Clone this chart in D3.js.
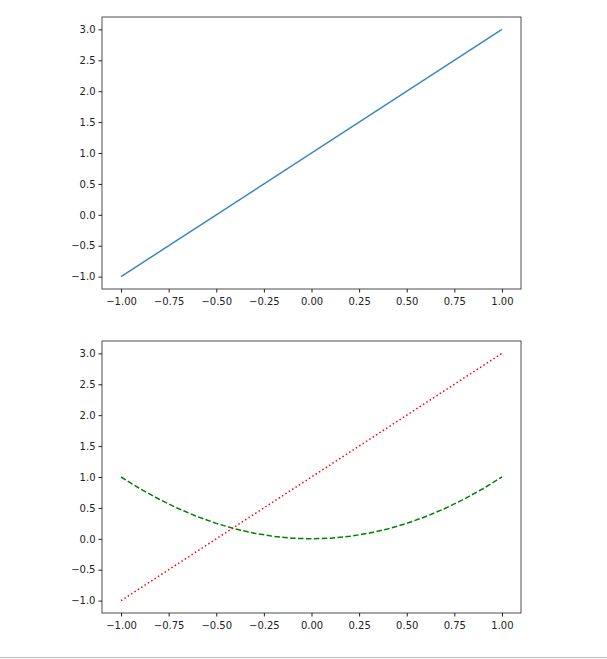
<!DOCTYPE html><html><head><meta charset="utf-8"><script src="https://cdn.jsdelivr.net/npm/d3@7"></script>
<style>body{margin:0;background:#fff}</style></head><body><svg id="c" width="607" height="659"></svg><script>
const xTicks=[-1.00,-0.75,-0.50,-0.25,0.00,0.25,0.50,0.75,1.00];
const yTicks=[-1.0,-0.5,0.0,0.5,1.0,1.5,2.0,2.5,3.0];
const lineX=[-1,1];
const lineY=[-1,3];
const curveX=[-1,-0.9,-0.8,-0.7,-0.6,-0.5,-0.4,-0.3,-0.2,-0.1,0,0.1,0.2,0.3,0.4,0.5,0.6,0.7,0.8,0.9,1];
const curveY=[1,0.81,0.64,0.49,0.36,0.25,0.16,0.09,0.04,0.01,0,0.01,0.04,0.09,0.16,0.25,0.36,0.49,0.64,0.81,1];
const svg=d3.select("#c");
svg.append("line").attr("x1",0).attr("x2",607).attr("y1",657.5).attr("y2",657.5).attr("stroke","#bbb");
function panel(top,bottom,series){
  const x=d3.scaleLinear().domain([-1.1,1.1]).range([102,521]);
  const y=d3.scaleLinear().domain([-1.2,3.2]).range([bottom,top]);
  const g=svg.append("g");
  const xa=g.append("g").attr("transform",`translate(0,${bottom})`).call(d3.axisBottom(x).tickValues(xTicks).tickFormat(d3.format(".2f")).tickSize(3.5).tickSizeOuter(0));
  const ya=g.append("g").attr("transform",`translate(102,0)`).call(d3.axisLeft(y).tickValues(yTicks).tickFormat(d3.format(".1f")).tickSize(3.5).tickSizeOuter(0));
  [xa,ya].forEach(a=>{a.select(".domain").remove();a.selectAll("text").attr("font-family","DejaVu Sans").attr("font-size",10).attr("fill","#222");a.selectAll("line").attr("stroke","#222");});
  xa.selectAll("text").attr("dy","0.9em");
  series.forEach(s=>{
    g.append("path").datum(s.xs.map((v,i)=>[v,s.ys[i]])).attr("d",d3.line().x(d=>x(d[0])).y(d=>y(d[1])))
     .attr("fill","none").attr("stroke",s.c).attr("stroke-width",1.5).attr("stroke-dasharray",s.dash||null);
  });
  g.append("rect").attr("x",102).attr("y",top).attr("width",419).attr("height",bottom-top).attr("fill","none").attr("stroke","#222").attr("stroke-width",0.8);
}
panel(17,289,[{xs:lineX,ys:lineY,c:"#3a87c0"}]);
panel(341,613,[{xs:curveX,ys:curveY,c:"green",dash:"5.5,2.4"},{xs:lineX,ys:lineY,c:"red",dash:"1.5,2.5"}]);
</script></body></html>
